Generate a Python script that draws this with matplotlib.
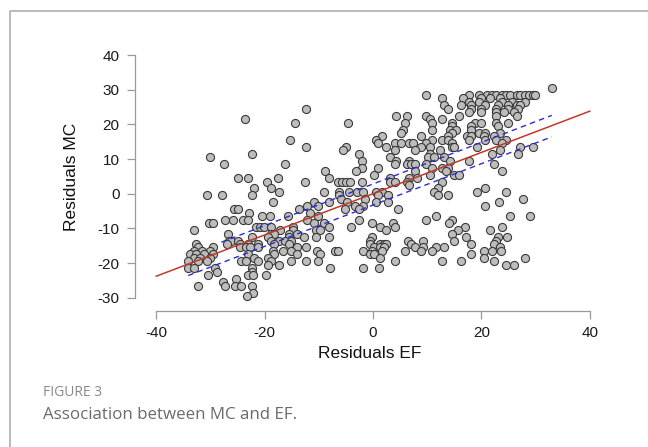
import numpy as np
import matplotlib
matplotlib.use("Agg")
import matplotlib.pyplot as plt
from matplotlib.lines import Line2D

plt.rcParams["axes.unicode_minus"] = False

# ---- data ----
mc_levels = [30.5, 28.5, 27.5, 26.5, 25.5, 24.5, 23.5, 22.5, 21.5, 20.5, 19.5, 18.5, 17.5,
             16.5, 15.5, 14.5, 13.5, 12.5, 11.5, 10.5, 9.5, 8.5, 7.5, 6.5, 5.5, 4.5, 3.5,
             2.5, 1.5, 0.5, -0.5, -1.5, -2.5, -3.5, -4.5, -5.5, -6.5, -7.5, -8.5, -9.5,
             -10.5, -11.5, -12.5, -13.5, -14.5, -15.5, -16.5, -17.5, -18.5, -19.5, -20.5,
             -21.5, -22.5, -23.5, -24.5, -25.5, -26.5, -28.5, -29.5]
ef_rows = [
    [33.0],
    [9.8, 17.7, 19.6, 21.1, 21.9, 22.7, 23.8, 24.6, 25.3, 26.5, 27.2, 28.0, 28.8, 29.5, 29.9],
    [12.7, 16.6, 20.0, 21.5, 23.4],
    [17.7, 19.6, 23.8, 25.7, 28.0],
    [13.1, 16.2, 18.1, 20.7, 23.0, 24.9, 26.5, 27.2],
    [-12.4, 13.9, 18.1, 20.0, 22.7, 24.9, 26.8],
    [17.7, 20.0, 22.7, 24.2, 26.1],
    [4.3, 6.3, 9.7, 15.8, 22.7, 26.5],
    [-23.6, 10.5, 12.7],
    [-14.4, -4.6, 5.9, 10.8, 14.6, 18.8, 20.0, 22.7, 24.9],
    [14.6, 18.1, 23.0],
    [5.5, 10.8, 14.3, 15.4, 18.1],
    [5.1, 14.6, 19.6, 20.7, 23.4],
    [1.7, 8.9, 13.9, 17.3, 18.1, 20.4, 22.3],
    [-15.4, 0.5, 10.8, 12.7, 13.9, 17.7, 20.7, 22.7, 24.6],
    [0.9, 4.0, 5.1, 6.6, 7.4, 9.7, 14.6, 23.8],
    [-12.4, -5.0, 2.4, 8.9, 10.5, 14.6, 15.0, 19.2, 27.2, 29.5],
    [-5.5, 4.0, 7.8, 12.4, 23.4],
    [-22.3, -2.5, 10.5, 21.9, 26.8],
    [-30.1, 3.2, 10.1, 11.2, 13.1],
    [-2.1, 4.3, 6.6, 14.3, 17.7],
    [-27.5, -16.2, 4.0, 6.3, 7.0, 7.8, 9.7, 22.3],
    [-2.1, 0.9, 10.8, 12.7, 13.9],
    [-8.8, -3.1, 7.8, 13.5, 23.8],
    [0.2, 10.5, 15.0, 15.8],
    [-24.9, -23.1, -17.6, -8.2, 3.2, 6.6, 8.2],
    [-19.5, -12.6, -6.5, -5.7, -5.0, -4.2, -2.0, 3.2, 4.0, 6.3, 12.7],
    [6.6],
    [-22.0, -18.8, 12.0, 20.7],
    [-17.4, -9.0, -6.3, -4.4, -2.9, -1.8, 0.5, 1.7, 11.2, 19.2, 24.6],
    [-30.7, -27.8, -22.3, -6.3, 0.9, 2.8, 12.0, 13.9],
    [-5.9, -1.4, 27.6],
    [-18.4, -10.9, -8.2, -4.8, 0.5, 2.7, 23.2],
    [-10.1, -12.1, -3.3, -1.8, 20.7],
    [-25.6, -24.9, -13.6, -5.2, -2.5, 4.6],
    [-22.9, -11.7],
    [-20.4, -19.1, -15.7, -10.1, 11.6, 25.3, 29.0],
    [-27.3, -25.8, -23.9, -23.1, -12.1, -2.5, 9.7, 14.5],
    [-30.2, -29.6, -10.9, -9.0, -0.2, 3.6, 14.1],
    [-21.6, -20.8, -20.1, -18.9, -14.7, -8.2, -4.0, 1.3, 4.0, 16.9, 23.8],
    [-33.0, -17.2, -14.7, -10.5, -9.8, 2.4, 15.6, 21.5],
    [-26.8, -18.9, -18.2, -15.5, -14.0, 14.6],
    [-22.3, -19.3, -15.5, -12.8, -10.5, -8.2, -0.2, 17.2, 23.0, 24.8],
    [-26.5, -26.2, -25.0, -18.9, -17.4, -16.2, -15.1, -0.6, 6.5, 9.3, 15.0, 22.7],
    [-32.6, -26.9, -24.6, -23.1, -21.2, -18.2, -15.5, -0.6, 1.3, 2.1, 2.4, 7.0, 18.1, 22.3],
    [-32.3, -29.6, -24.6, -23.5, -22.7, -21.2, -14.1, -12.4, 0.2, 1.3, 2.1, 7.8, 9.3, 11.6,
     13.1, 23.4],
    [-33.0, -31.5, -30.0, -18.5, -16.6, -15.1, -10.3, -7.1, -6.5, -1.8, -0.2, 1.7, 5.9, 8.9,
     10.8, 20.4, 21.9, 23.6],
    [-33.8, -32.6, -31.1, -29.6, -23.1, -18.2, -14.0, -9.8, -0.6, 0.2, 18.1],
    [-33.0, -31.9, -30.0, -22.0, -19.3, 1.3, 20.4, 28.0],
    [-34.2, -32.3, -30.7, -24.3, -23.5, -21.2, -18.9, -15.1, -12.4, -10.1, 4.0, 12.7, 16.2, 22.3],
    [-19.3, -17.4, 24.6, 26.1],
    [-34.2, -33.0, -29.2, -22.3, -7.9, -1.9, 1.1],
    [-28.8, -22.3],
    [-30.4, -23.1, -22.2, -19.8],
    [-25.2],
    [-27.7],
    [-32.3, -27.3, -25.4, -24.3, -22.3],
    [-22.2],
    [-23.3],
]
residuals_ef = np.concatenate([np.asarray(r, float) for r in ef_rows])
residuals_mc = np.concatenate([np.full(len(r), m) for r, m in zip(ef_rows, mc_levels)])

fit_x = [-40, 40]
fit_y = [-23.8, 23.8]
band_upper_x = [-28.0, 33.0]
band_upper_y = [-14.0, 22.6]
band_lower_x = [-34.1, 33.0]
band_lower_y = [-23.6, 16.4]

x_ticks = [-40, -20, 0, 20, 40]
y_ticks = [-30, -20, -10, 0, 10, 20, 30, 40]

# ---- figure ----
W, H = 648, 447
fig = plt.figure(figsize=(W / 100, H / 100), dpi=100)
fig.patch.set_facecolor("white")

# outer frame (left and top edges visible)
fx = 10 / W
fy = 1 - 11 / H
fig.add_artist(Line2D([fx, fx, 1.0], [0.0, fy, fy], transform=fig.transFigure,
                      color="#b5b5b5", lw=1.3))

# axes placed so that data -40..40 and -30..40 land where the reference has them
px_per_x = (589.7 - 156.2) / 80
px_per_y = (297.7 - 55.0) / 70
x0_px, y0_px = 373.0, 193.7
ax_l, ax_r, ax_t, ax_b = 134.7, 605.0, 45.0, 311.0
ax = fig.add_axes([ax_l / W, 1 - ax_b / H, (ax_r - ax_l) / W, (ax_b - ax_t) / H])
ax.set_xlim((ax_l - x0_px) / px_per_x, (ax_r - x0_px) / px_per_x)
ax.set_ylim((y0_px - ax_b) / px_per_y, (y0_px - ax_t) / px_per_y)

ax.scatter(residuals_ef, residuals_mc, s=34, facecolor="#bdbdbd", edgecolor="#3a3a3a",
           linewidth=0.8, zorder=2)
ax.plot(fit_x, fit_y, color="#c0392b", lw=1.1, zorder=3)
ax.plot(band_upper_x, band_upper_y, color="#2b2bd6", lw=1.0, ls=(0, (4, 3)), zorder=3)
ax.plot(band_lower_x, band_lower_y, color="#2b2bd6", lw=1.0, ls=(0, (4, 3)), zorder=3)

for s in ["top", "right"]:
    ax.spines[s].set_visible(False)
ax.spines["left"].set_bounds(-30, 40)
ax.spines["bottom"].set_bounds(-40, 40)
for s in ["left", "bottom"]:
    ax.spines[s].set_color("#9a9a9a")
    ax.spines[s].set_linewidth(0.9)
ax.set_xticks(x_ticks)
ax.set_yticks(y_ticks)
ax.tick_params(axis="both", direction="out", length=6, width=0.9, color="#9a9a9a",
               labelsize=11, labelcolor="#1a1a1a", pad=5)
for lab in ax.get_xticklabels() + ax.get_yticklabels():
    lab.set_family("Liberation Sans")

ax.set_xlabel("Residuals EF", fontsize=12.5, family="Liberation Sans", color="#111111")
ax.set_ylabel("Residuals MC", fontsize=12.5, family="Liberation Sans", color="#111111")
ax.xaxis.set_label_coords(0.5, -(353 - ax_b) / (ax_b - ax_t), transform=ax.transAxes)
ax.yaxis.set_label_coords(-(ax_l - 71) / (ax_r - ax_l), (ax_b - 177) / (ax_b - ax_t),
                          transform=ax.transAxes)
ax.xaxis.label.set_va("center")
ax.yaxis.label.set_va("center")

fig.text(43 / W, 1 - 392.7 / H, "FIGURE 3", fontsize=10, family="Open Sans",
         color="#8a8a8a", va="center", ha="left")
fig.text(43 / W, 1 - 415 / H, "Association between MC and EF.", fontsize=12.2,
         family="Open Sans", color="#6a6a6a", va="center", ha="left")

fig.savefig("out.png", dpi=100, facecolor="white")
